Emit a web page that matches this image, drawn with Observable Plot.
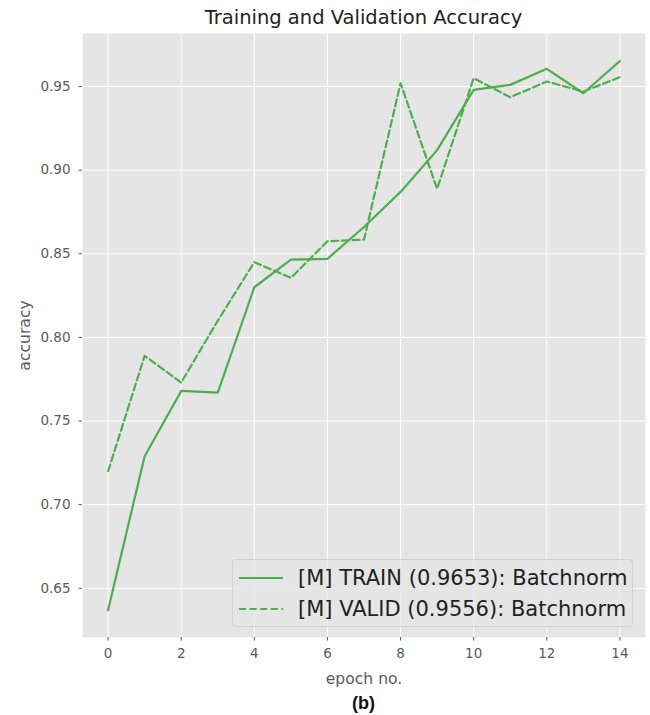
<!DOCTYPE html>
<html>
<head>
<meta charset="utf-8">
<script src="https://cdn.jsdelivr.net/npm/d3@7"></script>
<script src="https://cdn.jsdelivr.net/npm/@observablehq/plot@0.6"></script>
<style>
  html, body { margin: 0; padding: 0; background: #ffffff; }
  body { font-family: "DejaVu Sans", sans-serif; }
  #wrap { position: relative; width: 650px; height: 715px; overflow: hidden; }
  #title { position: absolute; left: 82px; width: 563px; top: 6px; height: 24px; line-height: 24px;
           text-align: center; font-size: 19.5px; color: #222; }
  #chart { position: absolute; left: 0; top: 33px; }
  #legend { position: absolute; left: 232px; top: 559px; width: 401px; height: 68px;
            background: rgba(229,229,229,0.8); border: 1px solid rgba(204,204,204,0.8); border-radius: 4px; box-sizing: border-box; }
  .lrow { position: absolute; left: 0; height: 28px; line-height: 28px; font-size: 21px; color: #222; white-space: nowrap; }
  .lrow svg { position: absolute; left: 5px; top: 0; }
  .lrow span { position: absolute; left: 65px; top: 0; }
  #caption { position: absolute; left: 82px; width: 563px; top: 690px; height: 26px; line-height: 26px;
             text-align: center; font-family: "Liberation Sans", Arial, sans-serif; font-weight: bold; font-size: 18px; color: #111; }
</style>
</head>
<body>
<div id="wrap">
  <div id="title"></div>
  <div id="chart"></div>
  <div id="legend"></div>
  <div id="caption"></div>
</div>
<script>
// ---- data ----
const epochs = [0, 1, 2, 3, 4, 5, 6, 7, 8, 9, 10, 11, 12, 13, 14];
const trainAcc = [0.637, 0.729, 0.768, 0.767, 0.830, 0.8465, 0.847, 0.866, 0.887, 0.912, 0.948, 0.951, 0.9606, 0.946, 0.9653];
const validAcc = [0.720, 0.789, 0.773, 0.810, 0.845, 0.8356, 0.8575, 0.8585, 0.952, 0.8888, 0.955, 0.9436, 0.953, 0.947, 0.9556];
const xTicks = [0, 2, 4, 6, 8, 10, 12, 14];
const yTicks = [0.65, 0.70, 0.75, 0.80, 0.85, 0.90, 0.95];
const seriesNames = ["[M] TRAIN (0.9653): Batchnorm", "[M] VALID (0.9556): Batchnorm"];
const titleText = "Training and Validation Accuracy";
const xLabel = "epoch no.";
const yLabel = "accuracy";
const captionText = "(b)";

const green = "#4cae4c";
const dash = "7,3.6";

const train = epochs.map((e, i) => ({epoch: e, acc: trainAcc[i]}));
const valid = epochs.map((e, i) => ({epoch: e, acc: validAcc[i]}));

// x/y domains with matplotlib-like 5% margins
const xMin = d3.min(epochs), xMax = d3.max(epochs);
const allY = trainAcc.concat(validAcc);
const yMin = d3.min(allY), yMax = d3.max(allY);
const xPad = (xMax - xMin) * 0.05, yPad = (yMax - yMin) * 0.05;

const chart = Plot.plot({
  width: 650,
  height: 657,
  marginLeft: 82,
  marginRight: 5,
  marginTop: 0,
  marginBottom: 53,
  style: {fontFamily: "DejaVu Sans, sans-serif", background: "transparent", overflow: "visible"},
  x: {domain: [xMin - xPad, xMax + xPad]},
  y: {domain: [yMin - yPad, yMax + yPad]},
  marks: [
    Plot.frame({fill: "#e5e5e5", stroke: null}),
    Plot.gridX(xTicks, {stroke: "#ffffff", strokeOpacity: 1, strokeWidth: 1}),
    Plot.gridY(yTicks, {stroke: "#ffffff", strokeOpacity: 1, strokeWidth: 1}),
    Plot.axisX(xTicks, {tickSize: 3.5, tickPadding: 7.5, fontSize: 13.5, color: "#5a5a5a", stroke: "#5a5a5a",
      label: xLabel, labelAnchor: "center", labelArrow: "none", labelOffset: 46}),
    Plot.axisY(yTicks, {tickSize: 3.5, tickPadding: 8.5, fontSize: 13.5, color: "#5a5a5a", stroke: "#5a5a5a",
      tickFormat: d3.format(".2f"), label: yLabel, labelAnchor: "center", labelArrow: "none", labelOffset: 64}),
    Plot.line(train, {x: "epoch", y: "acc", stroke: green, strokeWidth: 2.2}),
    Plot.line(valid, {x: "epoch", y: "acc", stroke: green, strokeWidth: 2.2, strokeDasharray: dash})
  ]
});
chart.querySelectorAll("g[aria-label='x-axis label'] text, g[aria-label='y-axis label'] text").forEach(t => {
  t.setAttribute("font-size", "15.6");
});
document.getElementById("chart").appendChild(chart);

document.getElementById("title").textContent = titleText;
document.getElementById("caption").textContent = captionText;

// legend
const legend = document.getElementById("legend");
seriesNames.forEach((name, i) => {
  const row = document.createElement("div");
  row.className = "lrow";
  row.style.top = (i === 0 ? 4 : 35) + "px";
  row.style.width = "100%";
  const svg = d3.create("svg").attr("width", 48).attr("height", 28);
  svg.append("line").attr("x1", 1).attr("x2", 45).attr("y1", 14).attr("y2", 14)
    .attr("stroke", green).attr("stroke-width", 2.2)
    .attr("stroke-dasharray", i === 0 ? null : dash);
  row.appendChild(svg.node());
  const span = document.createElement("span");
  span.textContent = name;
  row.appendChild(span);
  legend.appendChild(row);
});
</script>
</body>
</html>
